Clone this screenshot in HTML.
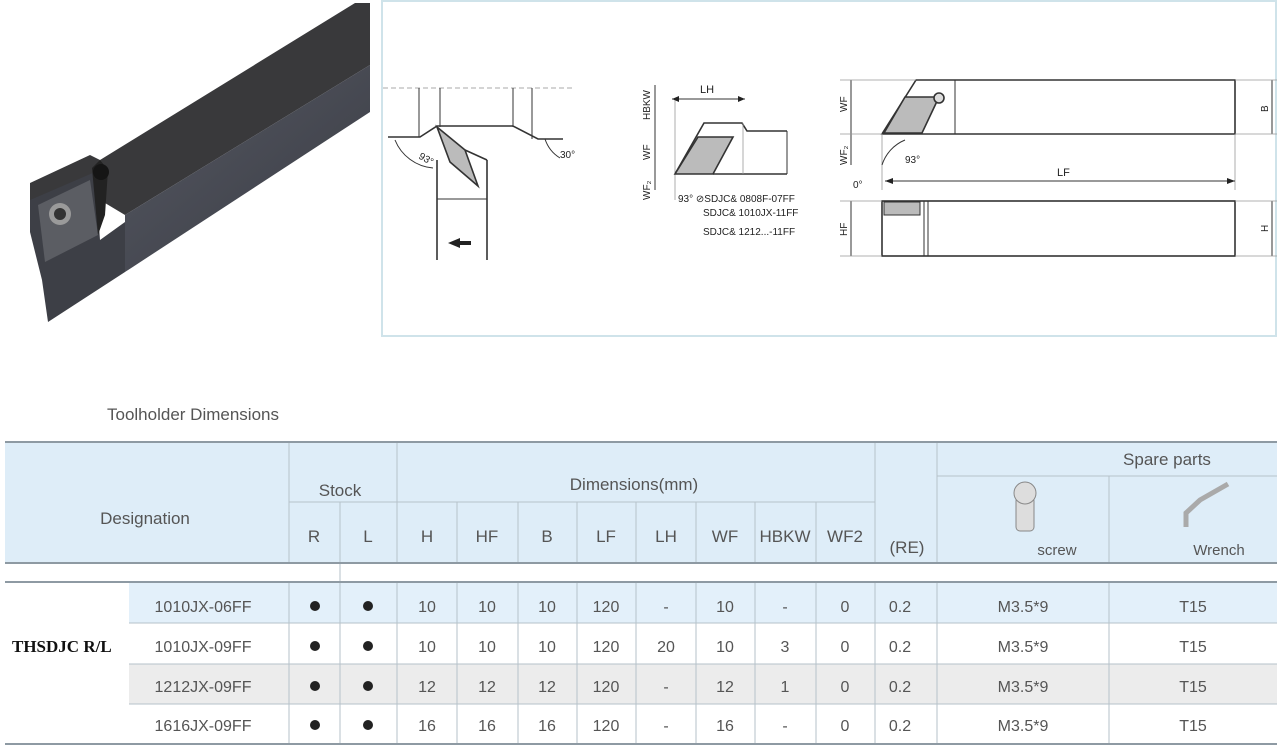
<!DOCTYPE html>
<html><head><meta charset="utf-8"><style>
html,body{margin:0;padding:0;background:#fff;}
svg{display:block;font-family:"Liberation Sans",sans-serif;}
</style></head><body>
<svg width="1279" height="745" viewBox="0 0 1279 745" xmlns="http://www.w3.org/2000/svg">
<defs>
<linearGradient id="side" x1="0" y1="0" x2="1" y2="1"><stop offset="0" stop-color="#555862"/><stop offset="1" stop-color="#3a3c44"/></linearGradient>
</defs>
<!-- tool photo -->
<polygon points="30,183 90,155 100,160 355,3 370,3 370,65 125,215 100,200 30,222" fill="#39393b"/>
<polygon points="125,215 370,65 370,112 125,272" fill="url(#side)"/>
<polygon points="30,200 95,172 100,240 125,222 125,272 48,322 42,280 30,232" fill="#3d3f46"/>
<polygon points="38,205 90,180 98,235 45,262" fill="#5b5d63"/>
<polygon points="92,168 100,160 108,170 105,215 98,235" fill="#222"/>
<circle cx="60" cy="214" r="11" fill="#9a9a9a"/>
<circle cx="60" cy="214" r="6" fill="#333"/>
<circle cx="101" cy="172" r="8" fill="#151515"/>
<!-- drawing panel -->
<rect x="382" y="1" width="894" height="335" fill="#fff" stroke="#cfe3ea" stroke-width="2"/>
<g stroke="#333" stroke-width="1.6" fill="none">
<line x1="383" y1="88" x2="575" y2="88" stroke="#aaa" stroke-width="1" stroke-dasharray="5,3"/>
<line x1="419" y1="88" x2="419" y2="137" stroke-width="1"/>
<line x1="440" y1="88" x2="440" y2="127" stroke-width="1"/>
<line x1="513" y1="88" x2="513" y2="127" stroke-width="1"/>
<line x1="532" y1="88" x2="532" y2="139" stroke-width="1"/>
<polyline points="388,137 420,137 437,126 513,126 538,139 563,139"/>
<polygon points="437,127 465,150 478,186 450,162" fill="#bbb"/>
<line x1="465" y1="150" x2="487" y2="160"/>
<line x1="437" y1="160" x2="437" y2="260"/>
<line x1="487" y1="160" x2="487" y2="260"/>
<line x1="437" y1="199" x2="487" y2="199" stroke-width="1"/>
<path d="M395,140 A45,45 0 0 0 433,168" stroke-width="1"/>
<path d="M545,139 A35,35 0 0 0 560,158" stroke-width="1"/>
<line x1="672" y1="99" x2="745" y2="99" stroke-width="1"/>
<line x1="675" y1="100" x2="675" y2="200" stroke-width="0.8" stroke="#999"/>
<polyline points="675,174 704,123 742,123 747,131 787,131"/>
<line x1="713" y1="174" x2="787" y2="174"/>
<line x1="787" y1="131" x2="787" y2="174" stroke-width="1"/>
<line x1="743" y1="123" x2="743" y2="174" stroke-width="0.8" stroke="#999"/>
<polygon points="675,174 698,137 733,137 713,174" fill="#bbb"/>
<line x1="655" y1="85" x2="655" y2="190" stroke-width="1"/>
<polygon points="916,80 1235,80 1235,134 922,134 882,134" fill="#fff"/>
<line x1="955" y1="80" x2="955" y2="134" stroke-width="1"/>
<polygon points="884,133 905,97 939,97 922,133" fill="#bbb"/>
<circle cx="939" cy="98" r="5" fill="#ddd"/>
<line x1="851" y1="80" x2="851" y2="134" stroke-width="1"/>
<line x1="851" y1="134" x2="851" y2="165" stroke-width="1"/>
<line x1="1272" y1="80" x2="1272" y2="134" stroke-width="1"/>
<line x1="840" y1="80" x2="916" y2="80" stroke-width="0.8" stroke="#999"/>
<line x1="840" y1="134" x2="882" y2="134" stroke-width="0.8" stroke="#999"/>
<line x1="1235" y1="80" x2="1277" y2="80" stroke-width="0.8" stroke="#999"/>
<line x1="1235" y1="134" x2="1277" y2="134" stroke-width="0.8" stroke="#999"/>
<line x1="882" y1="134" x2="882" y2="190" stroke-width="0.8" stroke="#999"/>
<line x1="1235" y1="134" x2="1235" y2="190" stroke-width="0.8" stroke="#999"/>
<line x1="885" y1="181" x2="1235" y2="181" stroke-width="1"/>
<path d="M882,165 A40,40 0 0 1 905,140" stroke-width="1"/>
<rect x="882" y="201" width="353" height="55" fill="#fff"/>
<rect x="884" y="202" width="36" height="13" fill="#bbb" stroke-width="1"/>
<line x1="924" y1="201" x2="924" y2="256" stroke-width="1"/>
<line x1="928" y1="201" x2="928" y2="256" stroke-width="1"/>
<line x1="851" y1="201" x2="851" y2="256" stroke-width="1"/>
<line x1="1272" y1="201" x2="1272" y2="256" stroke-width="1"/>
<line x1="840" y1="201" x2="882" y2="201" stroke-width="0.8" stroke="#999"/>
<line x1="840" y1="256" x2="882" y2="256" stroke-width="0.8" stroke="#999"/>
<line x1="1235" y1="201" x2="1277" y2="201" stroke-width="0.8" stroke="#999"/>
<line x1="1235" y1="256" x2="1277" y2="256" stroke-width="0.8" stroke="#999"/>
</g>
<g fill="#222">
<polygon points="448,243 460,238 460,248"/><rect x="459" y="241" width="12" height="4"/>
<polygon points="672,99 679,96 679,102"/><polygon points="745,99 738,96 738,102"/>
<polygon points="885,181 893,178 893,184"/><polygon points="1235,181 1227,178 1227,184"/>
</g>
<g font-size="10" fill="#222" font-family="Liberation Sans Narrow,Liberation Sans,sans-serif">
<text x="418" y="158" transform="rotate(30 418 158)">93°</text>
<text x="560" y="158">30°</text>
<text x="700" y="93" font-size="11">LH</text>
<text x="650" y="120" transform="rotate(-90 650 120)">HBKW</text>
<text x="650" y="160" transform="rotate(-90 650 160)">WF</text>
<text x="650" y="200" transform="rotate(-90 650 200)">WF₂</text>
<text x="678" y="202">93°  ⊘SDJC&amp; 0808F-07FF</text>
<text x="703" y="216">SDJC&amp; 1010JX-11FF</text>
<text x="703" y="235">SDJC&amp; 1212...-11FF</text>
<text x="847" y="112" transform="rotate(-90 847 112)">WF</text>
<text x="847" y="165" transform="rotate(-90 847 165)">WF₂</text>
<text x="1268" y="112" transform="rotate(-90 1268 112)">B</text>
<text x="905" y="163">93°</text>
<text x="1057" y="176" font-size="11">LF</text>
<text x="853" y="188">0°</text>
<text x="847" y="236" transform="rotate(-90 847 236)">HF</text>
<text x="1268" y="232" transform="rotate(-90 1268 232)">H</text>
</g>
<!-- table -->
<text x="107" y="420" font-size="17" fill="#555">Toolholder Dimensions</text>
<rect x="5" y="442" width="1272" height="121" fill="#deedf8"/>
<rect x="129" y="583" width="1148" height="40" fill="#e3f0fa"/>
<rect x="129" y="664" width="1148" height="40" fill="#ececec"/>
<g stroke="#b6c2ca" stroke-width="1">
<line x1="289" y1="442" x2="289" y2="563"/>
<line x1="397" y1="442" x2="397" y2="563"/><line x1="397" y1="581" x2="397" y2="744"/>
<line x1="875" y1="442" x2="875" y2="563"/><line x1="875" y1="581" x2="875" y2="744"/>
<line x1="937" y1="442" x2="937" y2="563"/><line x1="937" y1="581" x2="937" y2="744"/>
<line x1="340" y1="502" x2="340" y2="744"/>
<line x1="289" y1="581" x2="289" y2="744"/>
<line x1="1109" y1="476" x2="1109" y2="563"/><line x1="1109" y1="581" x2="1109" y2="744"/>
<g>
<line x1="457" y1="502" x2="457" y2="563"/><line x1="518" y1="502" x2="518" y2="563"/>
<line x1="577" y1="502" x2="577" y2="563"/><line x1="636" y1="502" x2="636" y2="563"/>
<line x1="696" y1="502" x2="696" y2="563"/><line x1="755" y1="502" x2="755" y2="563"/>
<line x1="816" y1="502" x2="816" y2="563"/>
<line x1="457" y1="581" x2="457" y2="744"/><line x1="518" y1="581" x2="518" y2="744"/>
<line x1="577" y1="581" x2="577" y2="744"/><line x1="636" y1="581" x2="636" y2="744"/>
<line x1="696" y1="581" x2="696" y2="744"/><line x1="755" y1="581" x2="755" y2="744"/>
<line x1="816" y1="581" x2="816" y2="744"/>
</g>
<line x1="289" y1="502" x2="875" y2="502"/>
<line x1="937" y1="476" x2="1277" y2="476"/>
<line x1="129" y1="623" x2="1277" y2="623"/>
<line x1="129" y1="664" x2="1277" y2="664"/>
<line x1="129" y1="704" x2="1277" y2="704"/>
</g>
<g stroke="#8e9aa3" stroke-width="2">
<line x1="5" y1="442" x2="1277" y2="442"/>
<line x1="5" y1="563" x2="1277" y2="563"/>
<line x1="5" y1="582" x2="1277" y2="582"/>
<line x1="5" y1="744" x2="1277" y2="744"/>
</g>
<g font-size="17" fill="#555" text-anchor="middle">
<text x="145" y="524">Designation</text>
<text x="340" y="496">Stock</text>
<text x="634" y="490">Dimensions(mm)</text>
<text x="314" y="542">R</text><text x="368" y="542">L</text>
<text x="427" y="542">H</text><text x="487" y="542">HF</text>
<text x="547" y="542">B</text><text x="606" y="542">LF</text>
<text x="666" y="542">LH</text><text x="725" y="542">WF</text>
<text x="785" y="542">HBKW</text><text x="845" y="542">WF2</text>
<text x="907" y="553">(RE)</text>
<text x="1167" y="465">Spare parts</text>
<text x="1057" y="555" font-size="15">screw</text>
<text x="1219" y="555" font-size="15">Wrench</text>
</g>
<g stroke="#888" fill="#ddd">
<rect x="1016" y="497" width="18" height="34" rx="4"/>
<circle cx="1025" cy="493" r="11"/>
<path d="M1186,527 L1186,513 L1200,500 L1228,484" stroke-width="5" fill="none" stroke="#aaa"/>
</g>
<g font-size="16" fill="#555" text-anchor="middle">
<g transform="translate(0,612)">
<text x="203">1010JX-06FF</text><text x="427">10</text><text x="487">10</text><text x="547">10</text><text x="606">120</text><text x="666">-</text><text x="725">10</text><text x="785">-</text><text x="845">0</text><text x="900">0.2</text><text x="1023">M3.5*9</text><text x="1193">T15</text>
</g>
<g transform="translate(0,652)">
<text x="203">1010JX-09FF</text><text x="427">10</text><text x="487">10</text><text x="547">10</text><text x="606">120</text><text x="666">20</text><text x="725">10</text><text x="785">3</text><text x="845">0</text><text x="900">0.2</text><text x="1023">M3.5*9</text><text x="1193">T15</text>
</g>
<g transform="translate(0,692)">
<text x="203">1212JX-09FF</text><text x="427">12</text><text x="487">12</text><text x="547">12</text><text x="606">120</text><text x="666">-</text><text x="725">12</text><text x="785">1</text><text x="845">0</text><text x="900">0.2</text><text x="1023">M3.5*9</text><text x="1193">T15</text>
</g>
<g transform="translate(0,731)">
<text x="203">1616JX-09FF</text><text x="427">16</text><text x="487">16</text><text x="547">16</text><text x="606">120</text><text x="666">-</text><text x="725">16</text><text x="785">-</text><text x="845">0</text><text x="900">0.2</text><text x="1023">M3.5*9</text><text x="1193">T15</text>
</g>
</g>
<g fill="#222">
<circle cx="315" cy="606" r="5"/><circle cx="368" cy="606" r="5"/>
<circle cx="315" cy="646" r="5"/><circle cx="368" cy="646" r="5"/>
<circle cx="315" cy="686" r="5"/><circle cx="368" cy="686" r="5"/>
<circle cx="315" cy="725" r="5"/><circle cx="368" cy="725" r="5"/>
</g>
<text x="12" y="652" font-family="Liberation Serif,serif" font-weight="bold" font-size="17" fill="#111">THSDJC R/L</text>
</svg>
</body></html>
